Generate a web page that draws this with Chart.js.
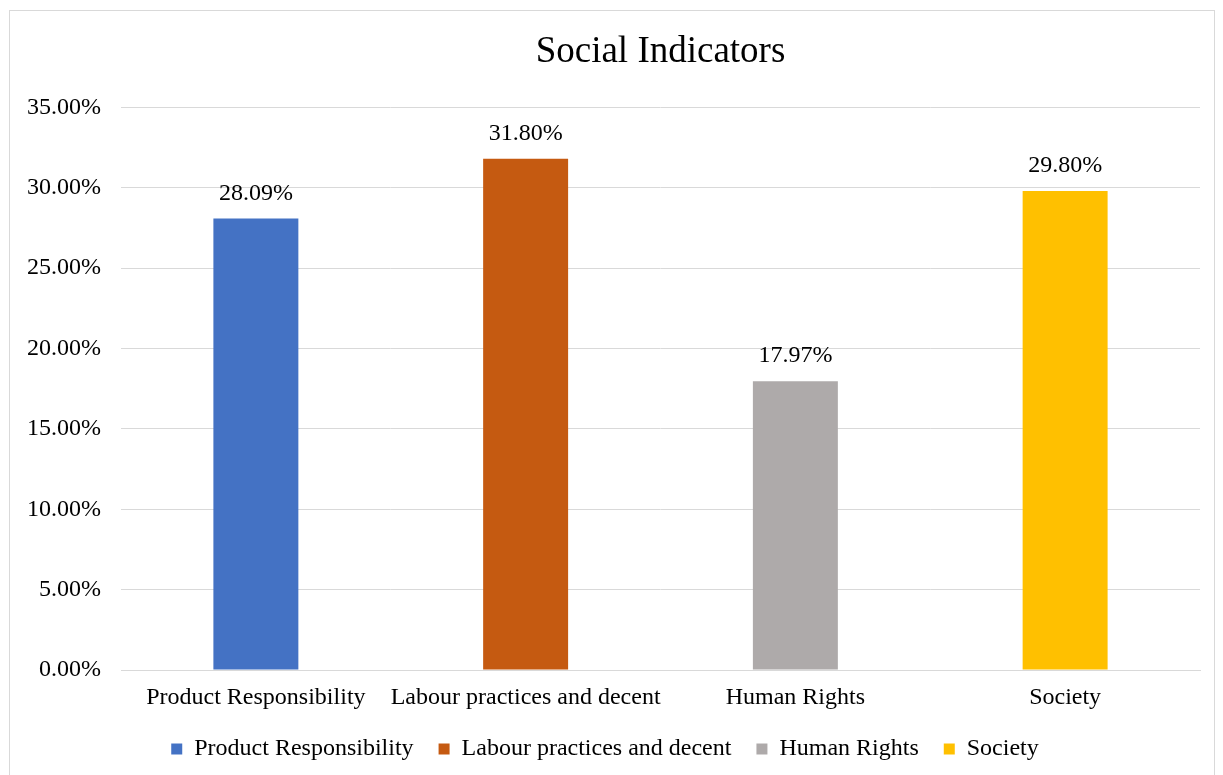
<!DOCTYPE html>
<html>
<head>
<meta charset="utf-8">
<script src="https://cdn.jsdelivr.net/npm/chart.js@4"></script>
<style>
  body { margin: 0; background: #fff; }
  #box { position: absolute; left: 9px; top: 10px; width: 1206px; height: 770px; border: 1px solid #d9d9d9; box-sizing: border-box; }
</style>
</head>
<body>
<div id="box"><canvas id="socialChart" width="1204" height="768"></canvas></div>
<script>
const categories = ['Product Responsibility', 'Labour practices and decent', 'Human Rights', 'Society'];
const values = [28.09, 31.80, 17.97, 29.80];
const barColors = ['#4472C4', '#C55A11', '#AEAAAA', '#FFC000'];
const yTicks = [0, 5, 10, 15, 20, 25, 30, 35];

const serif = '"Liberation Serif", "Times New Roman", serif';

// draws the value above each bar
const valueLabels = {
  id: 'valueLabels',
  afterDatasetsDraw(chart) {
    const ctx = chart.ctx;
    const meta = chart.getDatasetMeta(0);
    ctx.save();
    ctx.font = '24px ' + serif;
    ctx.fillStyle = '#000';
    ctx.textAlign = 'center';
    ctx.textBaseline = 'middle';
    meta.data.forEach((bar, i) => {
      ctx.fillText(values[i].toFixed(2) + '%', bar.x, bar.y - 25);
    });
    ctx.restore();
  }
};

const ctx = document.getElementById('socialChart').getContext('2d');
new Chart(ctx, {
  type: 'bar',
  data: {
    labels: categories,
    datasets: [{
      label: 'Social Indicators',
      data: values,
      backgroundColor: barColors,
      borderWidth: 0,
      barPercentage: 0.63,
      categoryPercentage: 0.5
    }]
  },
  options: {
    responsive: false,
    animation: false,
    layout: { padding: { left: 0, right: 14, top: 0, bottom: 8 } },
    plugins: {
      title: {
        display: true,
        fullSize: false,
        text: 'Social Indicators',
        color: '#000',
        font: { family: serif, size: 37, weight: 'normal' },
        padding: { top: 19, bottom: 33 }
      },
      legend: {
        position: 'bottom',
        labels: {
          color: '#000',
          font: { family: serif, size: 24 },
          boxWidth: 11,
          boxHeight: 11,
          padding: 25,
          generateLabels: () => categories.map((c, i) => ({
            text: c,
            fillStyle: barColors[i],
            strokeStyle: barColors[i],
            lineWidth: 0,
            index: i
          }))
        }
      },
      tooltip: { enabled: false }
    },
    scales: {
      x: {
        afterFit: (scale) => { scale.height = 42; },
        grid: { display: false, drawTicks: false },
        border: { color: '#d9d9d9', width: 1 },
        ticks: { color: '#000', font: { family: serif, size: 24 }, padding: 13, maxRotation: 0, autoSkip: false }
      },
      y: {
        min: 0,
        max: 35,
        afterFit: (scale) => { scale.width = 111; },
        afterBuildTicks: (scale) => { scale.ticks = yTicks.map(v => ({ value: v })); },
        grid: { color: '#d9d9d9', lineWidth: 1, drawTicks: false },
        border: { display: false },
        ticks: {
          color: '#000',
          font: { family: serif, size: 24 },
          padding: 20,
          callback: (v) => v.toFixed(2) + '%'
        }
      }
    }
  },
  plugins: [valueLabels]
});
</script>
</body>
</html>
